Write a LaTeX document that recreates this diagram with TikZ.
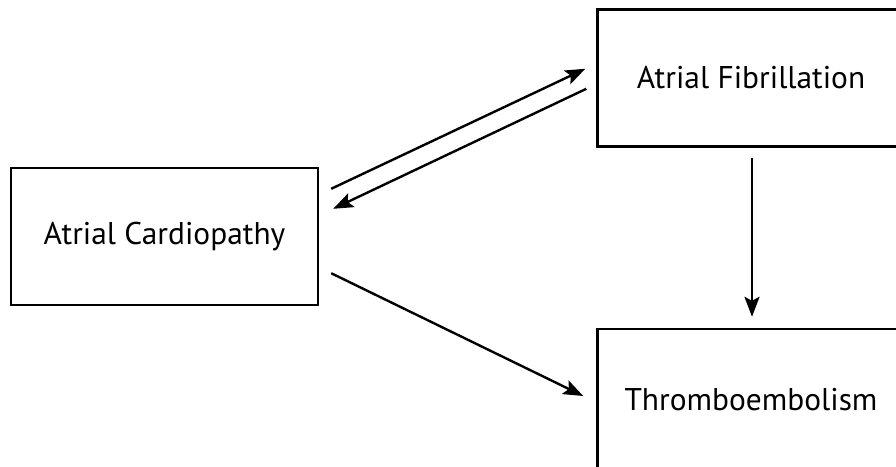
\documentclass[tikz,border=0pt]{standalone}
\usepackage{fontspec}
\setmainfont{PT Sans}
\usetikzlibrary{arrows.meta}

\tikzset{
  stage/.style={draw,line width=2.4pt,minimum width=307pt,minimum height=137pt,inner sep=0pt,
    font=\fontsize{31.4}{38}\selectfont},
  link/.style={line width=2.4pt,-{Stealth[length=20pt,width=15pt,inset=4pt]}}
}

\begin{document}
\begin{tikzpicture}[x=1pt,y=-1pt]
\clip (0,0) rectangle (896,466);
\node[stage] (ac) at (164.5,236.5) {Atrial Cardiopathy};
\node[stage] (af) at (751,78) {Atrial Fibrillation};
% box runs past the bottom edge, so its text is lifted back
\node[stage,minimum height=146pt] (te) at (751,402) {\raisebox{4.5pt}{Thromboembolism}};
% the two-way link between cardiopathy and fibrillation
\coordinate (acout) at ([shift={(12,22)}]ac.north east);
\coordinate (afin) at ([shift={(-11,60.5)}]af.north west);
\coordinate (afout) at ([shift={(-10,80.5)}]af.north west);
\coordinate (acin) at ([shift={(14,42)}]ac.north east);
\draw[link] (acout) -- (afin);
\draw[link] (afout) -- (acin);
% both lead to thromboembolism
\draw[link] ([shift={(12,-33)}]ac.south east) -- ([shift={(-13,-6)}]te.west);
\draw[link] ([shift={(1,10)}]af.south) -- ([shift={(1,-11)}]te.north);
\end{tikzpicture}
\end{document}
